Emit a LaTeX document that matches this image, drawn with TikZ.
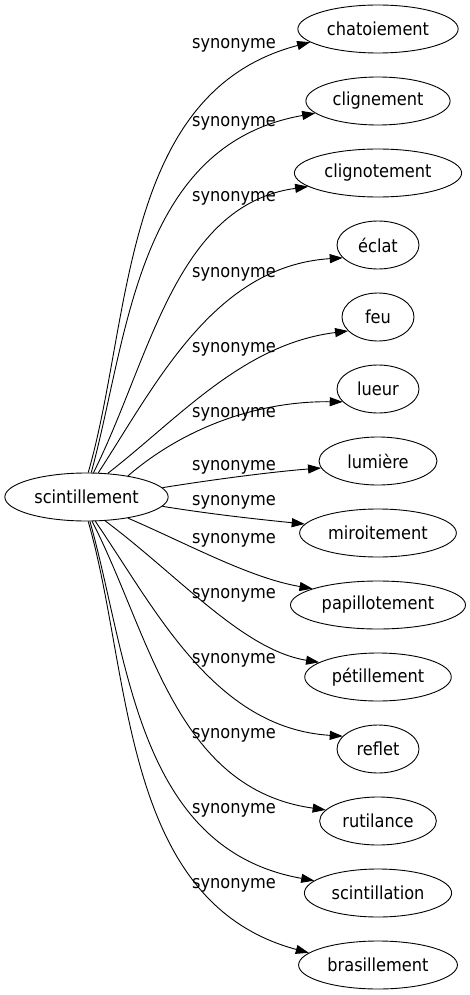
\documentclass[tikz,border=0pt]{standalone}
\usepackage{fontspec}
\setmainfont{DejaVu Sans Condensed}
\usetikzlibrary{shapes.geometric,arrows.meta}

\tikzset{
  mot/.style={ellipse, draw, line width=0.9pt, inner xsep=5.6pt, inner ysep=2pt,
    minimum width=72pt, minimum height=48pt},
  court/.style={mot, minimum width=82pt},
  lien/.style={line width=0.9pt, -{Triangle[length=13pt,width=9pt]}},
  rel/.style={inner sep=0pt}
}

\begin{document}
\begin{tikzpicture}[x=1pt,y=-1pt,font=\fontsize{18}{21}\selectfont]
\useasboundingbox (0,0) rectangle (469,995);
% mot central
\node[mot] (c) at (86.5,497) {scintillement};
% synonymes
\node[mot] (t1) at (378,29) {chatoiement};
\node[mot] (t2) at (378,101) {clignement};
\node[mot] (t3) at (378,173) {clignotement};
\node[court] (t4) at (378,245) {éclat};
\node[mot] (t5) at (378,317) {feu};
\node[court] (t6) at (378,389) {lueur};
\node[mot, minimum width=118pt] (t7) at (378,461) {lumière};
\node[mot] (t8) at (378,533) {miroitement};
\node[mot] (t9) at (378,605) {papillotement};
\node[mot] (t10) at (378,677) {pétillement};
\node[court] (t11) at (378,749) {reflet};
\node[mot] (t12) at (378,821) {rutilance};
\node[mot] (t13) at (378,893) {scintillation};
\node[mot] (t14) at (378,965) {brasillement};
% etiquettes
\node[rel] (l1) at (234,45) {synonyme};
\node[rel] (l2) at (234,123) {synonyme};
\node[rel] (l3) at (234,198) {synonyme};
\node[rel] (l4) at (234,274) {synonyme};
\node[rel] (l5) at (234,349) {synonyme};
\node[rel] (l6) at (234,414) {synonyme};
\node[rel] (l7) at (234,467) {synonyme};
\node[rel] (l8) at (234,502) {synonyme};
\node[rel] (l9) at (234,540) {synonyme};
\node[rel] (l10) at (234,595) {synonyme};
\node[rel] (l11) at (234,660) {synonyme};
\node[rel] (l12) at (234,735) {synonyme};
\node[rel] (l13) at (234,810) {synonyme};
\node[rel] (l14) at (234,885) {synonyme};
% liens
\draw[lien] (c.86) .. controls (132,321) and (120,92) .. (t1.191);
\draw[lien] (c.79) .. controls (128,338) and (136,145) .. (t2.191);
\draw[lien] (c.74) .. controls (150,360) and (175,205) .. (t3.191);
\draw[lien] (c.64) .. controls (156,384) and (214,266) .. (t4.200);
\draw[lien] (c.48) .. controls (179,418) and (243,344) .. (t5.205);
\draw[lien] (c.27) .. controls (186,426) and (260,401) .. (t6.200);
\draw[lien] (c.7) .. controls (210,480) and (270,472) .. (t7.187);
\draw[lien] (c.-7) .. controls (210,514) and (255,519) .. (t8.173);
\draw[lien] (c.-27) .. controls (190,545) and (250,578) .. (t9.166);
\draw[lien] (c.-52) .. controls (179,576) and (243,650) .. (t10.166);
\draw[lien] (c.-70) .. controls (156,610) and (214,728) .. (t11.160);
\draw[lien] (c.-77) .. controls (150,634) and (175,789) .. (t12.168);
\draw[lien] (c.-82) .. controls (128,656) and (136,849) .. (t13.169);
\draw[lien] (c.-86) .. controls (132,673) and (120,902) .. (t14.170);
\end{tikzpicture}
\end{document}
